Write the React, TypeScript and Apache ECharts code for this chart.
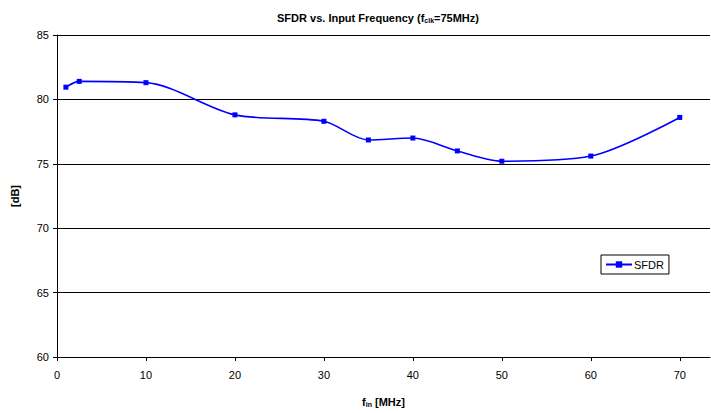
import React, { useEffect, useRef } from "react";
import * as echarts from "echarts";

const freqMHz = [1, 2.5, 10, 20, 30, 35, 40, 45, 50, 60, 70];
const sfdrDb = [80.95, 81.4, 81.3, 78.8, 78.3, 76.85, 77.0, 76.0, 75.2, 75.6, 78.6];
const seriesName = "SFDR";

const FONT = "'Liberation Sans', Arial, sans-serif";

export default function App() {
  const ref = useRef<HTMLDivElement>(null);
  useEffect(() => {
    if (!ref.current) return;
    const chart = echarts.init(ref.current, null, { renderer: "svg" });
    const data = freqMHz.map((f, i) => [f, sfdrDb[i]]);
    chart.setOption({
      animation: false,
      backgroundColor: "#fff",
      textStyle: { fontFamily: FONT },
      title: {
        text: "{a|SFDR vs. Input Frequency (f}{s|clk}{a|=75MHz)}",
        left: 373,
        textAlign: "center",
        top: 6,
        textStyle: {
          rich: {
            a: { fontSize: 11, fontWeight: "bold", color: "#000", fontFamily: FONT },
            s: { fontSize: 7, fontWeight: "bold", color: "#000", fontFamily: FONT, padding: [6, 0, 0, 0] },
          },
        },
      },
      legend: {
        left: 601,
        top: 255,
        orient: "vertical",
        borderColor: "#000",
        borderWidth: 1,
        borderRadius: 0,
        padding: [4, 5, 4, 4],
        itemWidth: 26,
        itemHeight: 8,
        itemGap: 0,
        backgroundColor: "#fff",
        textStyle: { fontSize: 11, color: "#000", fontFamily: FONT, padding: [0, 0, 0, -3] },
        data: [seriesName],
      },
      grid: { left: 57, top: 35, right: 1, bottom: 55 },
      xAxis: {
        type: "value",
        min: 0,
        max: 73.4,
        interval: 10,
        name: "{a|f}{s|in}{a| [MHz]}",
        nameLocation: "middle",
        nameGap: 38,
        nameTextStyle: {
          rich: {
            a: { fontSize: 11, fontWeight: "bold", color: "#000", fontFamily: FONT },
            s: { fontSize: 7, fontWeight: "bold", color: "#000", fontFamily: FONT, padding: [6, 0, 0, 0] },
          },
        },
        axisLine: { show: true, onZero: false, lineStyle: { color: "#000", width: 1 } },
        axisTick: { show: true, length: 4, lineStyle: { color: "#000" } },
        axisLabel: { fontSize: 11, color: "#000", margin: 12, showMaxLabel: false, fontFamily: FONT },
        splitLine: { show: false },
      },
      yAxis: {
        type: "value",
        min: 60,
        max: 85,
        interval: 5,
        name: "[dB]",
        nameLocation: "middle",
        nameGap: 37,
        nameTextStyle: { fontSize: 11, fontWeight: "bold", color: "#000", fontFamily: FONT },
        axisLine: { show: true, lineStyle: { color: "#000", width: 1 } },
        axisTick: { show: true, length: 4, lineStyle: { color: "#000" } },
        axisLabel: { fontSize: 11, color: "#000", margin: 8, fontFamily: FONT },
        splitLine: { show: true, lineStyle: { color: "#000", width: 1 } },
      },
      series: [
        {
          name: seriesName,
          type: "line",
          data,
          smooth: 0.3,
          symbol: "rect",
          symbolSize: 5,
          lineStyle: { color: "#0000ff", width: 1.6 },
          itemStyle: { color: "#0000ff" },
        },
      ],
    });
    return () => chart.dispose();
  }, []);
  return <div ref={ref} style={{ width: 711, height: 413, position: "absolute", left: 0, top: 0 }} />;
}
